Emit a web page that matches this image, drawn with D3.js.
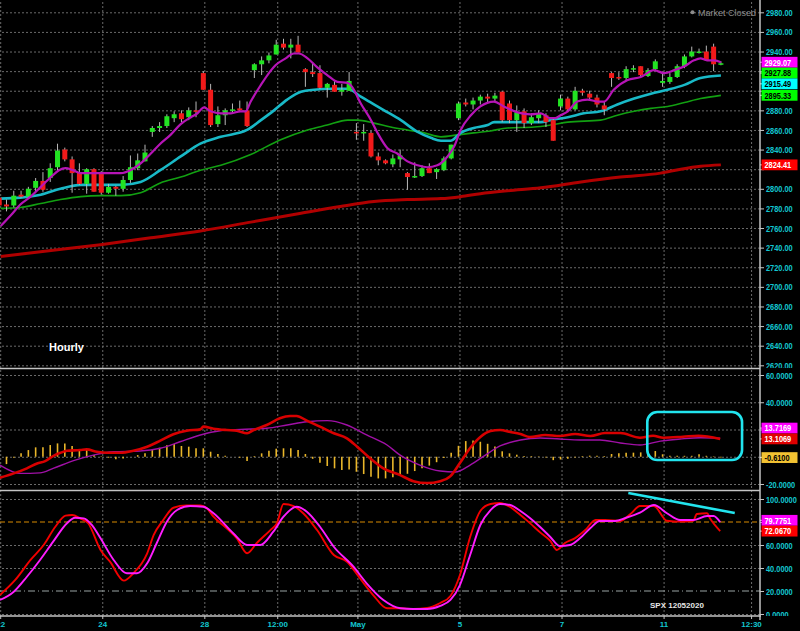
<!DOCTYPE html>
<html>
<head>
<meta charset="utf-8">
<script src="https://d3js.org/d3.v7.min.js"></script>
<style>
body { margin: 0; background: #000; }
svg { display: block; }
</style>
</head>
<body>
<script>

// hourly candles, bar 0 = apr 22 first hour, 7 bars a day
var opens  = [2791,2784,2783,2794,2792,2801,2808,2811,2822,2840, 2830,2817,2805,2820,2816,2796,2802,2800,2809,2821,
              2828,2858,2862,2864,2872,2877,2873,2880,2918,2901, 2866,2875,2880,2882,2880,2921,2927,2931,2937,2948,
              2944,2947,2922,2919,2918,2903,2906,2899,2900,2858, 2857,2857,2833,2829,2825,2830,2816,2812,2813,2821,
              2817,2819,2831,2872,2888,2886,2890,2894,2892,2899, 2887,2870,2879,2867,2872,2875,2870,2884,2892,2881,
              2900,2897,2893,2885,2918,2914,2913,2922,2925,2915, 2922,2908,2909,2914,2925,2935,2939,2940,2945,2927]
var highs  = [2796,2789,2798,2798,2802,2811,2817,2826,2846,2842, 2833,2826,2821,2821,2818,2805,2803,2813,2834,2836,
              2845,2864,2868,2876,2879,2880,2883,2889,2920,2907, 2884,2882,2887,2890,2889,2928,2935,2939,2952,2953,
              2953,2956,2923,2929,2926,2908,2910,2907,2919,2867, 2866,2859,2837,2830,2835,2840,2817,2827,2824,2826,
              2821,2833,2845,2889,2892,2893,2896,2897,2898,2900, 2890,2885,2882,2877,2880,2877,2872,2896,2894,2904,
              2902,2900,2896,2889,2919,2919,2925,2926,2925,2923, 2932,2918,2918,2927,2937,2945,2943,2946,2948,2930]
var lows   = [2778,2777,2781,2791,2790,2797,2797,2807,2819,2828, 2796,2804,2795,2797,2794,2795,2793,2797,2806,2819,
              2828,2853,2858,2862,2868,2868,2870,2873,2901,2863, 2863,2865,2877,2879,2863,2913,2916,2928,2937,2942,
              2933,2939,2904,2914,2902,2893,2899,2895,2900,2850, 2849,2832,2824,2825,2822,2822,2799,2811,2812,2816,
              2810,2818,2830,2870,2884,2881,2886,2888,2888,2868, 2867,2858,2862,2865,2867,2863,2849,2880,2879,2880,
              2895,2891,2883,2875,2904,2911,2911,2919,2914,2914, 2921,2904,2907,2913,2923,2934,2938,2931,2920,2926]
var closes = [2783,2782,2793,2792,2800,2808,2799,2821,2839,2830, 2816,2805,2820,2797,2796,2802,2800,2809,2822,2829,
              2837,2862,2864,2874,2876,2871,2880,2879,2901,2865, 2875,2880,2881,2880,2864,2927,2931,2936,2947,2944,
              2947,2939,2919,2917,2903,2907,2899,2901,2910,2857, 2858,2833,2829,2826,2831,2834,2812,2813,2821,2816,
              2820,2831,2845,2887,2886,2890,2894,2892,2895,2870, 2870,2878,2867,2873,2877,2868,2849,2892,2881,2900,
              2898,2893,2886,2881,2913,2913,2922,2923,2916,2921, 2930,2910,2914,2925,2935,2940,2940,2931,2927,2928]

// moving averages, [bar, price]
var fastMa = [[0.2,2762],[1.6,2773],[2.9,2784],[4.3,2792],[5.7,2802],[7.1,2812],[8.2,2819],[9.1,2821],[10.1,2819],[11.2,2816],
  [12.5,2816],[13.9,2816],[15.3,2816],[16.7,2816],[18,2819],[19.4,2826],[20.8,2836],[22.1,2846],[23.5,2855],[24.9,2866],
  [26.3,2873],[27.2,2877],[28.1,2883],[29,2879],[30.4,2877],[31.8,2877],[33.1,2879],[33.8,2879],[34.5,2889],[35.9,2906],
  [36.8,2916],[37.9,2926],[39.3,2933],[40.4,2938],[41.1,2938],[42.3,2933],[43.6,2924],[45,2916],[46.4,2909],[47.8,2908],
  [48.4,2904],[49.6,2887],[51,2870],[51.9,2857],[53.3,2841],[54.6,2836],[56,2828],[57.4,2824],[58.7,2822],[60.1,2824],
  [61.5,2833],[62.4,2843],[63.3,2860],[64.7,2875],[66,2884],[67.9,2889],[69.2,2884],[71.1,2878],[72.9,2876],[74.3,2877],
  [75.6,2872],[76.3,2872],[77,2875],[78,2879],[79.3,2889],[80.7,2891],[82.1,2889],[83,2889],[84.3,2901],[86.2,2911],
  [88,2914],[89.8,2921],[91.2,2918],[92.6,2921],[94,2925],[95.3,2931],[96.2,2933],[97.1,2931],[98.1,2931],[99,2929.1]]
var midMa = [[0.2,2790],[2.9,2791],[5.7,2794],[8.4,2800],[11.2,2804],[13.9,2804],[16.7,2804],[19.4,2807],[22.1,2819],[24.9,2833],
  [27.6,2846],[30.4,2853],[34,2860],[35.9,2870],[37.7,2880],[39.5,2891],[41.4,2899],[43.2,2901],[45.5,2902],[47.8,2902],
  [49.6,2894],[51.4,2886],[52.8,2880],[55.1,2870],[57.4,2858],[59.2,2852],[60.6,2849],[61.9,2849],[63.3,2857],[65.1,2862],
  [67,2865],[67.9,2868],[69.7,2868],[72.5,2868],[74.3,2868],[75.6,2870],[78,2873],[80.2,2877],[82.5,2879],[84.8,2886],
  [87.1,2892],[89.4,2897],[91.7,2901],[94,2906],[96.2,2913],[99,2915.5]]
var slowMa = [[0.2,2780],[2.9,2781],[5.7,2785],[8.4,2789],[11.2,2792],[13.9,2793],[16.7,2793],[19.4,2796],[22.1,2806],[24.9,2812],
  [27.6,2819],[30.4,2824],[34.5,2835],[38.6,2850],[42.3,2860],[45,2865],[47.8,2870],[49.1,2870],[51.4,2867],[53.7,2863],
  [56,2860],[58.3,2857],[60.6,2853],[62.9,2855],[65.1,2857],[67.4,2859],[69.7,2862],[73.4,2863],[75.6,2865],[78,2868],
  [82.5,2870],[84.8,2875],[87.1,2879],[89.4,2882],[91.7,2884],[94,2888],[96.2,2892],[99,2895.3]]
var longMa = [[0.2,2731],[7.1,2737],[13.9,2743],[20.8,2750],[27.6,2757],[34.5,2766],[41.4,2775],[46.8,2782],[51.4,2787],[56,2789],
  [60.6,2790],[63.3,2792],[66,2795],[69.7,2798],[74.3,2801],[79.8,2807],[85.2,2812],[90.7,2816],[93.5,2820],[96.2,2823],[99,2824.4]]

// macd panel
var macdLine = [[0.1,-15.4],[2,-12.2],[3.8,-8.5],[5.2,-4.9],[6.3,-3.2],[7.4,0.5],[8.4,2.9],[9.3,4.4],[11.1,4.9],[12,5.4],
  [13.4,3.7],[14.8,2.9],[16.6,2.9],[18.4,4.4],[20.3,7.4],[22.1,11.8],[23.9,16.5],[25.7,19.1],[27.6,20.1],[28,22.1],
  [29.4,20.6],[31.2,19.6],[32.6,19.1],[34,17.2],[34.9,19.6],[36.7,23.3],[38.5,28.2],[39.9,29.9],[40.8,29.9],[42.2,26.5],
  [44,22.1],[45.9,17.2],[47.7,13.5],[49.1,7.4],[50.9,-1.2],[52.7,-8.5],[55,-13.5],[56.8,-17.9],[58.7,-19.3],[60.5,-17.9],
  [61.9,-14.2],[63.2,-4.6],[64.6,6.4],[66,14.5],[67.4,18.9],[68.7,19.6],[70.1,18.2],[71.5,16.7],[72.8,14.5],[74.9,16],
  [76.9,15.2],[79,16.7],[81.1,15.2],[83.1,17.4],[85.2,17.4],[87.9,14],[89.7,15.4],[91.1,14],[93.8,14.7],[95.9,15.4],[98.9,13.1]]
var signalLine = [[0.1,-6.1],[2.9,-12.2],[5.6,-11.8],[7.4,-8.5],[10.2,-2.9],[12.9,1.2],[15.7,3.7],[19.3,4.2],[22.1,6.2],[24.8,11],
  [27.6,16],[30.3,19.1],[33.1,20.1],[36.7,20.9],[39.5,23.3],[42.2,25.7],[45,26.5],[47.7,23.3],[50.4,16],[53.2,8.6],
  [55,1.2],[57.7,-6.1],[60.5,-10.5],[62.6,-11.2],[64.6,-6.1],[66.7,1.2],[68.7,7.9],[71.5,12.3],[74.2,13.8],[76.9,13],
  [79.7,12.3],[82.4,12.3],[85.2,10.1],[87.9,8.6],[90.7,11.5],[93.4,13],[96.2,14],[98.9,13.7]]
var histogram = [-9.8,-5.4,-0.7,2.5,4.9,6.9,6.9,8.6,9.8,9.8, 7.9,5.7,4.9,1.2,0.3,-0.7,-1.9,-1.2,0,1.2,
  2.5,4.9,6.6,8.4,9.3,7.9,7.4,6.2,6.2,3.7, 2,0.7,0,-0.7,-3.2,0.5,2.5,4.4,5.9,6.2,
  6.2,4.9,2,-1.5,-4.4,-6.8,-8.5,-9.8,-9.3,-11, -12.7,-14.7,-15.9,-15.9,-15.1,-14,-12.5,-10.5,-8.5,-6.5,
  -4,-1,3,8,11.5,12,11,9.5,7.5,4, 2.5,1.5,0.5,0.5,0.3,-0.5,-2.5,-2,-1.5,-0.5,
  0.5,0.8,0.8,0.5,2,2.5,3,3,3.2,2.5, 4.2,1.8,0.7,0.7,0.7,0.7,1.8,0.7,0.3,-0.6]

// stochastic panel
var stochK = [[0.1,16.5],[2.2,29.6],[4.3,47],[6.1,60],[7.7,75.9],[9.1,85.5],[10,86.1],[11.1,83.2],[12.2,78.9],[13.9,55.7],
  [15.2,45.5],[17.1,29],[18.4,35.4],[20.3,52.8],[21.2,68.7],[22.5,81.7],[23.9,92.4],[25.7,94.5],[27.6,94.5],[28.5,91.9],
  [29.4,84.6],[31.2,74.5],[32.6,65.8],[34,52.8],[35.3,61.5],[37.2,73],[38.1,78.9],[39,95.7],[40.4,93.9],[41.7,87.6],
  [43.6,73],[45.9,51.3],[47.7,45.5],[49.5,31],[51.3,16.5],[53.2,5],[55,5],[56.8,4.3],[58.7,5.2],[60.5,9.6],
  [61.9,15.7],[63.2,33.9],[64.6,67],[66,89.6],[67.4,95.7],[68.7,96.5],[70.1,93],[71.5,86],[72.8,79],[74.2,71],
  [75.6,63.5],[76.5,55.7],[77.6,61.7],[79,66],[80.4,73],[81.8,81.7],[83.1,81.7],[85.2,80.9],[86.6,87],[87.9,93.9],
  [89.8,93.9],[91.6,81.1],[93.4,80.3],[95.2,81.1],[95.7,87],[97.1,87.6],[97.5,83.2],[98.9,72.1]]
var stochD = [[0.1,12.2],[2,19.4],[3.8,32.4],[5.6,47],[7.4,62.9],[9.3,78.9],[10.4,83.7],[11.6,83.2],[12.7,77.4],[13.9,65.8],
  [15.7,47],[17.5,35.4],[18.9,35.4],[20.3,44.1],[21.6,61.5],[23,80.3],[24.4,90.4],[26.2,93.9],[28,93.3],[29.4,87.6],
  [32.1,70.2],[34,60],[35.8,60],[37.6,71.6],[39,84.6],[40.8,93.3],[42.2,89],[44,75.9],[45.9,58.5],[48.6,41.1],
  [50.4,26.7],[52.7,12.2],[55,5],[56.8,4.3],[58.7,4.3],[60.5,7],[61.9,12.2],[63.2,25.2],[64.6,51.3],[66,77.4],
  [67.4,90.4],[68.7,95.7],[70.1,94.8],[71.5,89.6],[72.8,83.5],[74.2,75.7],[75.6,67],[76.9,59.1],[78.3,60],[79.7,66],
  [81.1,74.8],[82.4,80.9],[84.5,80.9],[85.9,83.5],[87.9,88.1],[89.8,94.8],[91.6,87.6],[93.4,81.7],[95.2,81.7],[97.1,85.2],
  [98,85.2],[98.9,79.8]]

// axis ticks and last value tags
var priceTicks = [2620,2640,2660,2680,2700,2720,2740,2760,2780,2800,2820,2840,2860,2880,2900,2920,2940,2960,2980]
var macdTicks = [-20,0,20,40,60]
var stochTicks = [0,20,40,60,80,100]
var dayBars = [0,14,28,38,49,63,77,91,103]
var dayLabels = ['22','24','28','12:00','May','5','7','11','12:30']
var priceTags = [2929.07,2927.88,2915.49,2895.33,2824.41]
var macdTags = [13.7169,13.1069,-0.61]
var stochTags = [79.7751,72.067]

// hand drawn marks on the chart
var boxBars = [88.9,101.9], boxMacd = [32.8,-2.4]
var trendBars = [86.3,100.9], trendStoch = [105.2,87.8]


var cyanText = '#13c6cf'
var gridCol = '#6a6a6a'
var squash = 0.78

var svg = d3.select('body').append('svg').attr('width',800).attr('height',631)
  .style('background','#000').attr('font-family','"Liberation Sans", Arial, sans-serif')

var defs = svg.append('defs')
function clip(id, x, y, w, h) {
  defs.append('clipPath').attr('id', id).append('rect').attr('x',x).attr('y',y).attr('width',w).attr('height',h)
}
clip('cMain', 0, 0, 760, 368)
clip('cMacd', 0, 369, 760, 121)
clip('cStoch', 0, 491, 760, 125)
clip('aMain', 760, 0, 40, 368)
clip('aStoch', 760, 491, 40, 125)

var x = d3.scaleLinear().domain([0,100]).range([-0.8, 728.2])
var yMain = d3.scaleLinear().domain([2620,2980]).range([365.3,12.3])
var yMacd = d3.scaleLinear().domain([-20,60]).range([484,375])
var yStoch = d3.scaleLinear().domain([0,100]).range([614,499])

function fmt(digits) {
  var f = d3.format('.' + digits + 'f')
  return function(d) { return f(d).replace('\u2212','-') }
}

//grid lines first

function hGrid(scale, ticks, clipId) {
  var g = svg.append('g').attr('clip-path','url(#' + clipId + ')')
    .append('g').attr('transform','translate(760,0)')
    .call(d3.axisRight(scale).tickValues(ticks).tickSize(-760).tickFormat(''))
  g.select('.domain').remove()
  g.selectAll('line').attr('stroke', gridCol).attr('stroke-dasharray','2,2')
}
hGrid(yMain, priceTicks, 'cMain')
hGrid(yMacd, macdTicks, 'cMacd')
hGrid(yStoch, [0,40,60,100], 'cStoch')

var vg = svg.append('g').attr('transform','translate(0,616)')
  .call(d3.axisBottom(x).tickValues(dayBars).tickSize(-616).tickFormat(''))
vg.select('.domain').remove()
vg.selectAll('line').attr('stroke', gridCol).attr('stroke-dasharray','2,2').attr('transform','translate(1,0)')

// stoch guide lines 80 / 20
svg.append('line').attr('x1',0).attr('x2',760).attr('y1',yStoch(80)).attr('y2',yStoch(80))
  .attr('stroke','#d88a00').attr('stroke-dasharray','5,3')
svg.append('line').attr('x1',0).attr('x2',760).attr('y1',yStoch(20)).attr('y2',yStoch(20))
  .attr('stroke','#9aa4a4').attr('stroke-dasharray','7,3,1,3')

//main panel: candles + averages

var main = svg.append('g').attr('clip-path','url(#cMain)')

var line = d3.line().curve(d3.curveMonotoneX)
  .x(function(d) { return x(d[0]) })

function maLine(data, col, w) {
  main.append('path').datum(data)
    .attr('d', line.y(function(d) { return yMain(d[1]) }))
    .attr('fill','none').attr('stroke', col).attr('stroke-width', w)
}
maLine(longMa, '#b00000', 3)
maLine(slowMa, '#12a012', 1.6)
maLine(midMa, '#19b9c7', 2.6)

var candles = main.selectAll('.candle').data(d3.range(opens.length)).enter().append('g').attr('class','candle')
candles.append('line')
  .attr('x1', function(i) { return x(i) }).attr('x2', function(i) { return x(i) })
  .attr('y1', function(i) { return yMain(highs[i]) }).attr('y2', function(i) { return yMain(lows[i]) })
  .attr('stroke','#b8b8b8')
candles.append('rect')
  .attr('x', function(i) { return x(i) - 2.5 }).attr('width', 5)
  .attr('y', function(i) { return yMain(Math.max(opens[i], closes[i])) })
  .attr('height', function(i) { return Math.max(1.5, Math.abs(yMain(opens[i]) - yMain(closes[i]))) })
  .attr('fill', function(i) { return closes[i] >= opens[i] ? '#22e322' : '#f21a1a' })

maLine(fastMa, '#b614b6', 2.2)

main.append('text').attr('x',49).attr('y',351).text('Hourly')
  .attr('fill','#fff').attr('font-weight','bold').attr('font-size','11px')
main.append('circle').attr('cx',692.5).attr('cy',12.3).attr('r',2).attr('fill','#8c8c8c')
main.append('text').attr('x',698).attr('y',15.5).text('Market Closed')
  .attr('fill','#8c8c8c').attr('font-size','9px')

//macd panel

var macd = svg.append('g').attr('clip-path','url(#cMacd)')

macd.selectAll('.hbar').data(histogram).enter().append('line').attr('class','hbar')
  .attr('x1', function(d,i) { return x(i) }).attr('x2', function(d,i) { return x(i) })
  .attr('y1', yMacd(0)).attr('y2', function(d) { return yMacd(d) })
  .attr('stroke','#e9b62a').attr('stroke-width',1.6)

macd.append('path').datum(signalLine)
  .attr('d', line.y(function(d) { return yMacd(d[1]) }))
  .attr('fill','none').attr('stroke','#a010a6').attr('stroke-width',1.4)
macd.append('path').datum(macdLine)
  .attr('d', line.y(function(d) { return yMacd(d[1]) }))
  .attr('fill','none').attr('stroke','#d80000').attr('stroke-width',2.6)

macd.append('rect')
  .attr('x', x(boxBars[0])).attr('width', x(boxBars[1]) - x(boxBars[0]))
  .attr('y', yMacd(boxMacd[0])).attr('height', yMacd(boxMacd[1]) - yMacd(boxMacd[0]))
  .attr('rx',10).attr('fill','none').attr('stroke','#22e4ee').attr('stroke-width',2.6)

//stochastic panel

var stoch = svg.append('g').attr('clip-path','url(#cStoch)')

stoch.append('path').datum(stochK)
  .attr('d', line.y(function(d) { return yStoch(d[1]) }))
  .attr('fill','none').attr('stroke','#f20000').attr('stroke-width',1.9)
stoch.append('path').datum(stochD)
  .attr('d', line.y(function(d) { return yStoch(d[1]) }))
  .attr('fill','none').attr('stroke','#ff1cff').attr('stroke-width',1.9)

stoch.append('line')
  .attr('x1', x(trendBars[0])).attr('x2', x(trendBars[1]))
  .attr('y1', yStoch(trendStoch[0])).attr('y2', yStoch(trendStoch[1]))
  .attr('stroke','#22e4ee').attr('stroke-width',2.6)

stoch.append('text').attr('x',650).attr('y',608).text('SPX 12052020')
  .attr('fill','#e6e6e6').attr('font-weight','bold').attr('font-size','8px')

//frame lines

svg.append('line').attr('x1',0).attr('x2',760).attr('y1',368.5).attr('y2',368.5).attr('stroke','#c4c4c4').attr('stroke-width',1.5)
svg.append('line').attr('x1',0).attr('x2',760).attr('y1',490.5).attr('y2',490.5).attr('stroke','#c4c4c4').attr('stroke-width',1.5)
svg.append('line').attr('x1',760).attr('x2',760).attr('y1',0).attr('y2',620).attr('stroke','#c4c4c4').attr('stroke-width',1.5)

// value tag positions, pushed apart so they do not overlap
function tagY(values, scale, dir) {
  var ys = values.map(function(v) { return scale(v) })
  if (dir > 0) {
    for (var i = 1; i < ys.length; i++) ys[i] = Math.max(ys[i], ys[i-1] + 10.8)
  } else {
    for (var j = ys.length - 2; j >= 0; j--) ys[j] = Math.min(ys[j], ys[j+1] - 10.8)
  }
  return ys
}
var mainTagY = tagY(priceTags, yMain, 1)
var macdTagY = tagY(macdTags, yMacd, -1)
var stochTagY = tagY(stochTags, yStoch, -1)

//right hand axes, labels hidden where a tag sits on them
//the labels are narrow in the original, so squash them sideways

function rightAxis(scale, ticks, digits, clipId, covered) {
  var outer = svg.append('g')
  if (clipId) outer.attr('clip-path','url(#' + clipId + ')')
  var g = outer.append('g').attr('transform','translate(760,0)')
    .call(d3.axisRight(scale).tickValues(ticks).tickSize(4).tickPadding(2).tickFormat(fmt(digits)))
  g.select('.domain').remove()
  g.selectAll('line').attr('stroke','#c4c4c4')
  g.selectAll('.tick').filter(function(d) {
    return covered.some(function(y) { return Math.abs(scale(d) - y) < 9 })
  }).select('text').remove()
  g.selectAll('text').attr('fill', cyanText).attr('font-size','9.5px').attr('font-weight','bold')
    .attr('font-family','"Liberation Sans", Arial, sans-serif')
    .attr('x', 0).attr('transform','translate(6,0) scale(' + squash + ',1)')
  return g
}
rightAxis(yMain, priceTicks, 2, 'aMain', mainTagY)
rightAxis(yMacd, macdTicks, 4, null, macdTagY)
rightAxis(yStoch, stochTicks, 4, 'aStoch', stochTagY)

function tags(values, ys, fills, inks, digits) {
  var g = svg.append('g')
  values.forEach(function(v, i) {
    g.append('line').attr('x1',760).attr('x2',764).attr('y1',ys[i]).attr('y2',ys[i]).attr('stroke','#ddd')
    g.append('rect').attr('x',761.5).attr('y',ys[i] - 5.4).attr('width',36).attr('height',10.8).attr('fill',fills[i])
    g.append('text').attr('transform','translate(764.5,' + ys[i] + ') scale(' + squash + ',1)')
      .attr('dy','0.35em').text(fmt(digits)(v))
      .attr('fill',inks[i]).attr('font-size','9.5px').attr('font-weight','bold')
  })
}
tags(priceTags, mainTagY, ['#ff00ff','#00ff00','#00ffff','#00ff00','#ff0000'], ['#fff','#000','#000','#000','#fff'], 2)
tags(macdTags, macdTagY, ['#ff00ff','#e00000','#f2c232'], ['#fff','#fff','#000'], 4)
tags(stochTags, stochTagY, ['#ff00ff','#ff0000'], ['#fff','#fff'], 4)

//bottom time axis

var xa = svg.append('g').attr('transform','translate(0,616)')
  .call(d3.axisBottom(x).tickValues(dayBars).tickSize(3).tickPadding(2)
    .tickFormat(function(d,i) { return dayLabels[i] }))
xa.select('.domain').remove()
xa.selectAll('line').attr('stroke','#c4c4c4').attr('transform','translate(1,0)')
xa.selectAll('text').attr('fill', cyanText).attr('font-size','8px').attr('font-weight','bold')
  .attr('font-family','"Liberation Sans", Arial, sans-serif').attr('transform','translate(1,0)')
svg.append('line').attr('x1',0).attr('x2',761).attr('y1',616).attr('y2',616).attr('stroke','#c4c4c4').attr('stroke-width',1.5)

</script>
</body>
</html>
